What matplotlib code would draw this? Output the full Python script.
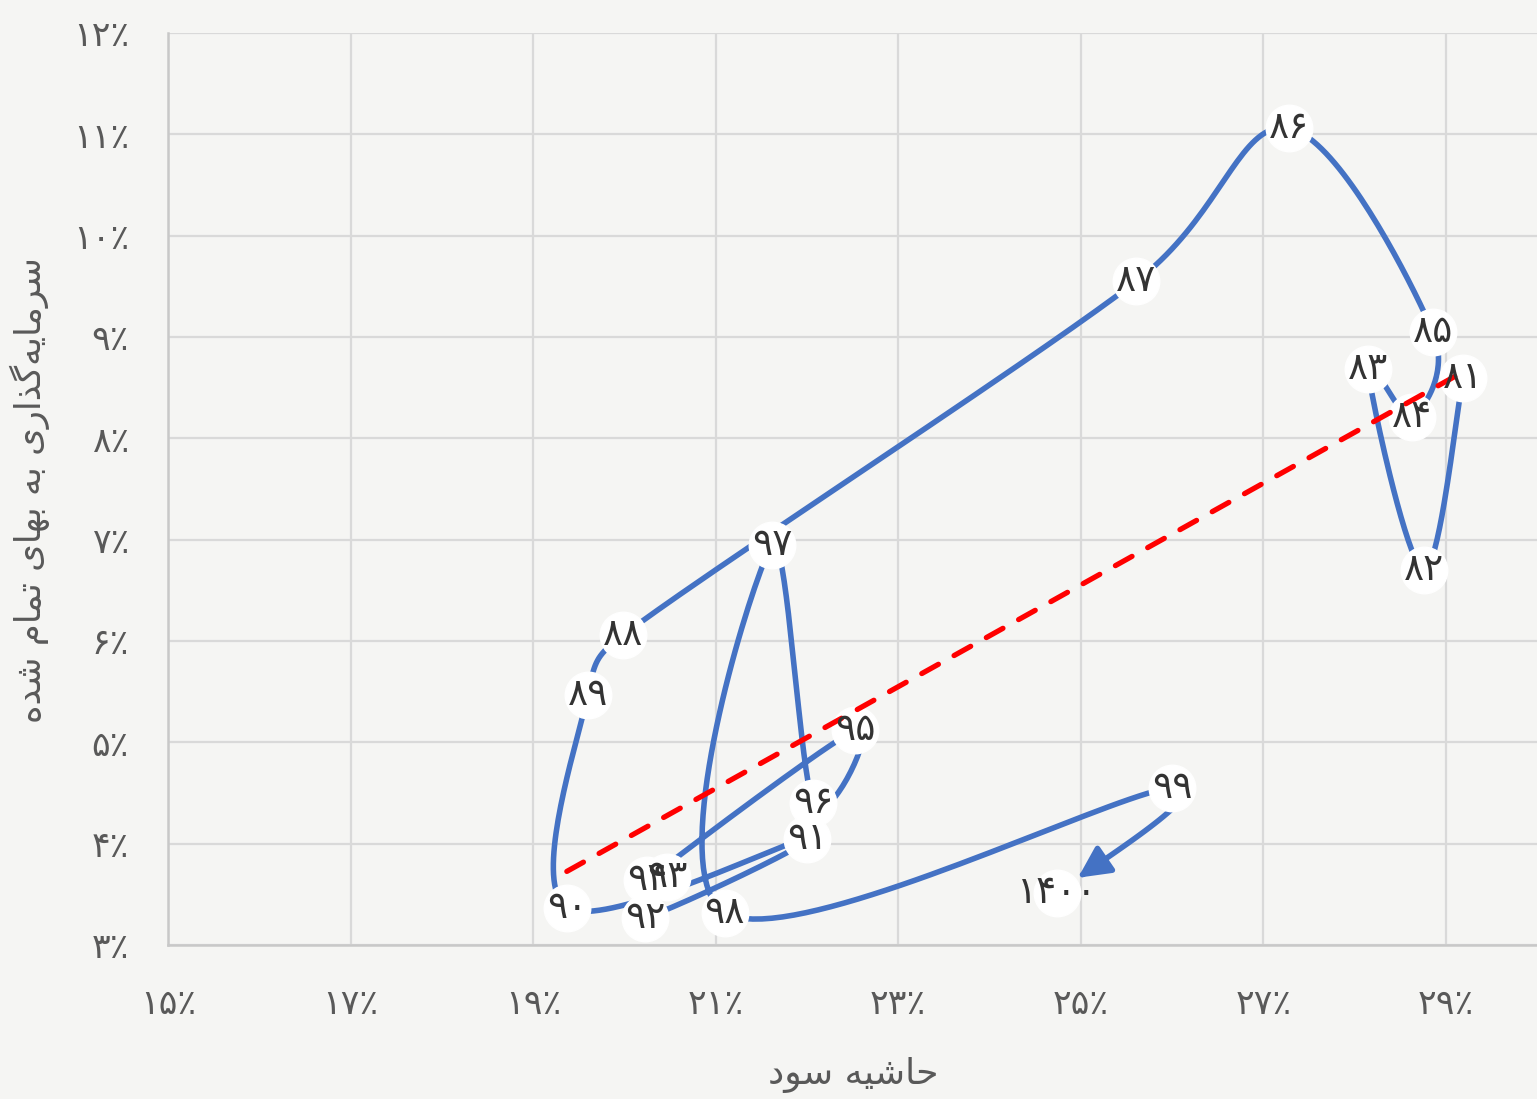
import matplotlib

matplotlib.use("Agg")
import matplotlib.pyplot as plt
import numpy as np

plt.rcParams["font.family"] = ["DejaVu Sans"]

# year labels (Persian calendar) and the two ratios, in percent
years = ["81", "82", "83", "84", "85", "86", "87", "88", "89", "90",
         "91", "92", "93", "94", "95", "96", "97", "98", "99", "1400"]
profit_margin = [29.19, 28.76, 28.15, 28.63, 28.86, 27.28, 25.61, 19.99, 19.60, 19.37,
                 22.00, 20.23, 20.47, 20.25, 22.53, 22.07, 21.62, 21.10, 26.00, 24.74]
capex_ratio = [8.60, 6.70, 8.68, 8.21, 9.05, 11.06, 9.55, 6.06, 5.47, 3.37,
               4.05, 3.27, 3.67, 3.64, 5.12, 4.40, 6.95, 3.32, 4.55, 3.51]

x_ticks = [15, 17, 19, 21, 23, 25, 27, 29]
y_ticks = [3, 4, 5, 6, 7, 8, 9, 10, 11, 12]

x_title = "حاشیه سود"
y_title = "سرمایه\u200cگذاری به بهای تمام شده"

BG = "#f5f5f3"
BLUE = "#4472c4"
GRID = "#d9d9d9"
TXT = "#595959"

FA_DIGITS = str.maketrans("0123456789", "۰۱۲۳۴۵۶۷۸۹")

# matplotlib has no arabic shaping, so pick presentation forms by hand
# letter: (isolated, final, initial, medial); right-joining letters have only two
FORMS = {
    "ا": ("\ufe8d", "\ufe8e"),
    "ب": ("\ufe8f", "\ufe90", "\ufe91", "\ufe92"),
    "ت": ("\ufe95", "\ufe96", "\ufe97", "\ufe98"),
    "ح": ("\ufea1", "\ufea2", "\ufea3", "\ufea4"),
    "د": ("\ufea9", "\ufeaa"),
    "ذ": ("\ufeab", "\ufeac"),
    "ر": ("\ufead", "\ufeae"),
    "س": ("\ufeb1", "\ufeb2", "\ufeb3", "\ufeb4"),
    "ش": ("\ufeb5", "\ufeb6", "\ufeb7", "\ufeb8"),
    "م": ("\ufee1", "\ufee2", "\ufee3", "\ufee4"),
    "ه": ("\ufee9", "\ufeea", "\ufeeb", "\ufeec"),
    "و": ("\ufeed", "\ufeee"),
    "ی": ("\ufeef", "\ufef0", "\ufef3", "\ufef4"),
    "گ": ("\ufb92", "\ufb93", "\ufb94", "\ufb95"),
}


def shape_fa(text: str) -> str:
    out = []
    for i, c in enumerate(text):
        if c not in FORMS:
            if c != "\u200c":
                out.append(c)
            continue
        prev = text[i - 1] if i > 0 else ""
        nxt = text[i + 1] if i + 1 < len(text) else ""
        j_prev = prev in FORMS and len(FORMS[prev]) == 4
        j_next = len(FORMS[c]) == 4 and nxt in FORMS
        f = FORMS[c]
        if j_prev and j_next:
            out.append(f[3])
        elif j_prev:
            out.append(f[1])
        elif j_next:
            out.append(f[2])
        else:
            out.append(f[0])
    return "".join(out)[::-1]


def fa_pct(v):
    return f"{v}".translate(FA_DIGITS) + "٪"


def _clamp(v, limit):
    n = np.hypot(*v)
    return v if n <= limit else v * (limit / n)


def smooth(p, n=40):
    """Excel-like smoothed line in pixel space: bezier, control points at 1/6 of the
    neighbour chord, kept within half the segment so short segments don't loop."""
    ext = np.vstack([p[0], p, p[-1]])
    segs = []
    t = np.linspace(0, 1, n)[:, None]
    for i in range(len(p) - 1):
        p0, p1, p2, p3 = ext[i], ext[i + 1], ext[i + 2], ext[i + 3]
        lim = 0.5 * np.hypot(*(p2 - p1))
        c1 = p1 + _clamp((p2 - p0) / 6, lim)
        c2 = p2 - _clamp((p3 - p1) / 6, lim)
        segs.append((1 - t) ** 3 * p1 + 3 * (1 - t) ** 2 * t * c1 + 3 * (1 - t) * t ** 2 * c2 + t ** 3 * p2)
    return segs


fig = plt.figure(figsize=(15.37, 10.99), dpi=100, facecolor=BG)
ax = fig.add_axes([168 / 1537, 1 - 945 / 1099, 1 - 168 / 1537, (945 - 33) / 1099])
ax.set_facecolor(BG)
ax.set_xlim(15, 30)
ax.set_ylim(3, 12)

ax.set_xticks(x_ticks, [fa_pct(v) for v in x_ticks])
ax.set_yticks(y_ticks, [fa_pct(v) for v in y_ticks])
ax.tick_params(length=0, labelsize=25, labelcolor=TXT)
ax.tick_params(axis="x", pad=30)
ax.tick_params(axis="y", pad=28)
ax.grid(color=GRID, lw=1.6)
ax.set_axisbelow(True)
for s in ("top", "right"):
    ax.spines[s].set_visible(False)
for s in ("left", "bottom"):
    ax.spines[s].set_color("#c8c8c8")
    ax.spines[s].set_linewidth(1.8)

to_pix = ax.transData
to_data = ax.transData.inverted()
pts = to_pix.transform(np.column_stack([profit_margin, capex_ratio]))
segs = [to_data.transform(s) for s in smooth(pts)]

body = np.vstack(segs[:-1])
ax.plot(body[:, 0], body[:, 1], color=BLUE, lw=4, solid_capstyle="round", zorder=2)

# last segment ends in an arrow touching the 1400 marker
last = segs[-1]
pix = to_pix.transform(last)
dist = np.hypot(*(pix - pix[-1]).T)
keep = last[dist > 23]
ax.plot(keep[:-1, 0], keep[:-1, 1], color=BLUE, lw=4, solid_capstyle="round", zorder=2)
ax.annotate("", xy=keep[-1], xytext=keep[-6],
            arrowprops=dict(arrowstyle="-|>,head_length=1.9,head_width=0.95",
                            color=BLUE, lw=4, shrinkA=0, shrinkB=0), zorder=4)

ax.plot(profit_margin, capex_ratio, ls="none", marker="o", ms=33.5,
        mfc="white", mec="white", zorder=3)

# linear trendline over all years
k, b = np.polyfit(profit_margin, capex_ratio, 1)
tx = np.array([min(profit_margin), max(profit_margin)])
ax.plot(tx, k * tx + b, color="#ff0000", lw=3.8, dashes=(3.6, 3.4),
        dash_capstyle="round", zorder=4)

for xv, yv, lab in zip(profit_margin, capex_ratio, years):
    ax.text(xv, yv, lab.translate(FA_DIGITS), ha="center", va="center",
            fontsize=27, color="#333333", zorder=5)

fig.text(853 / 1537, 1 - 1075 / 1099, shape_fa(x_title), ha="center", va="center",
         fontsize=26, color=TXT)
fig.text(30 / 1537, 1 - 490 / 1099, shape_fa(y_title), ha="center", va="center",
         rotation=90, fontsize=25.5, color=TXT)

fig.savefig("out.png", dpi=100, facecolor=BG)
